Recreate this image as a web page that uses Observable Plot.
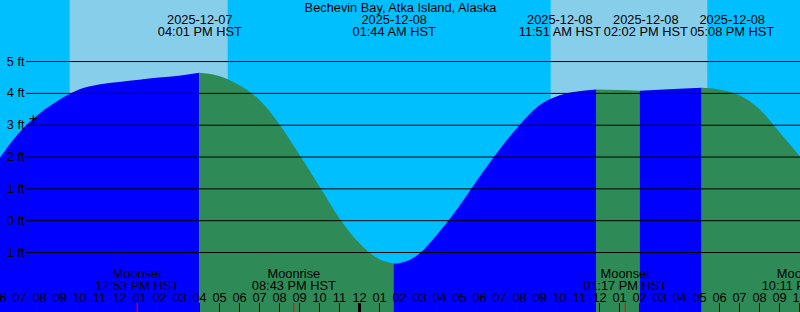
<!DOCTYPE html>
<html><head><meta charset="utf-8">
<script src="https://cdn.jsdelivr.net/npm/d3@7"></script>
<script src="https://cdn.jsdelivr.net/npm/@observablehq/plot@0.6"></script>
<style>html,body{margin:0;padding:0;background:#00BFFF;overflow:hidden}</style>
</head><body><div id="chart"></div>
<script>
const title = "Bechevin Bay, Atka Island, Alaska";
const timeZone = "HST";
const viewStart = "2025-12-07T06:03";
const viewEnd = "2025-12-08T22:03";
const feetDomain = [-2.884, 6.918];
const feetTicks = [-1, 0, 1, 2, 3, 4, 5];

// tide height readings (ft)
const readingTimes = [
  "2025-12-07T06:03","2025-12-07T07:00","2025-12-07T08:00","2025-12-07T09:00","2025-12-07T10:00",
  "2025-12-07T11:00","2025-12-07T12:00","2025-12-07T13:00","2025-12-07T14:00","2025-12-07T15:00",
  "2025-12-07T17:00","2025-12-07T18:00","2025-12-07T19:00","2025-12-07T20:00","2025-12-07T21:00",
  "2025-12-07T22:00","2025-12-07T23:00","2025-12-08T00:00","2025-12-08T01:00","2025-12-08T02:00",
  "2025-12-08T03:00","2025-12-08T04:00","2025-12-08T05:00","2025-12-08T06:00","2025-12-08T07:00",
  "2025-12-08T08:00","2025-12-08T09:00","2025-12-08T10:00","2025-12-08T11:00","2025-12-08T13:00",
  "2025-12-08T15:00","2025-12-08T16:00","2025-12-08T18:00","2025-12-08T19:00","2025-12-08T20:00",
  "2025-12-08T21:00","2025-12-08T22:03"
];
const readingFeet = [
  1.97, 2.75, 3.34, 3.78, 4.11,
  4.26, 4.34, 4.41, 4.48, 4.54,
  4.53, 4.25, 3.79, 3.03, 2.08,
  1.08, 0.08, -0.71, -1.22, -1.35,
  -1.06, -0.38, 0.43, 1.34, 2.20,
  2.97, 3.60, 3.92, 4.05, 4.09,
  4.10, 4.13, 4.11, 3.93, 3.50,
  2.79, 2.00
];

// tide events
const tideEventTimes = ["2025-12-07T16:01","2025-12-08T01:44","2025-12-08T11:51","2025-12-08T14:02","2025-12-08T17:08"];
const tideEventFeet = [4.63, -1.36, 4.11, 4.07, 4.16];

// sun
const sunriseTimes = ["2025-12-07T09:32","2025-12-08T09:35"];
const sunsetTimes = ["2025-12-07T17:26","2025-12-08T17:25"];

// moon
const moonTimes = ["2025-12-07T12:53","2025-12-07T20:43","2025-12-08T13:17","2025-12-08T22:11"];
const moonKinds = ["Moonset","Moonrise","Moonset","Moonrise"];

// current time marker
const nowTime = "2025-12-07T07:42";
const nowFeet = 3.2;

const W = 800, H = 312, FONT_PX = 12.8, FONT = "'Liberation Sans', Arial, sans-serif";
const parse = s => new Date(s + ":00Z");
const t0 = parse(viewStart), t1 = parse(viewEnd);
const fmtDate = d3.utcFormat("%Y-%m-%d");
const fmtTime = d => d3.utcFormat("%I:%M %p")(d) + " " + timeZone;
const fmtHour = d3.utcFormat("%I");

const readings = readingTimes.map((t, i) => ({t: parse(t), h: readingFeet[i]}))
  .concat(tideEventTimes.map((t, i) => ({t: parse(t), h: tideEventFeet[i]})))
  .sort((a, b) => a.t - b.t);
const bounds = [t0, ...tideEventTimes.map(parse), t1];
const segs = [];
for (let i = 0; i < bounds.length - 1; i++) {
  const pts = readings.filter(d => d.t >= bounds[i] && d.t <= bounds[i + 1]);
  const rising = pts[pts.length - 1].h > pts[0].h;
  pts.forEach(p => segs.push({...p, seg: i, fill: rising ? "#0000ff" : "#2e8b57"}));
}
const days = sunriseTimes.map((s, i) => ({a: parse(s), b: parse(sunsetTimes[i])}));
const moons = moonTimes.map((t, i) => ({t: parse(t), kind: moonKinds[i]}));
const hours = d3.utcHour.range(parse("2025-12-07T06:00"), new Date(+t1 + 1));
const midnights = hours.filter(d => d.getUTCHours() === 0);

// keep event labels from overlapping: spread clusters around their mean anchor
const xs = Plot.scale({x: {type: "utc", domain: [t0, t1], range: [0, W]}});
const ctx = document.createElement("canvas").getContext("2d");
ctx.font = `${FONT_PX}px ${FONT}`;
const events = tideEventTimes.map(parse).map(t => {
  const text = fmtDate(t) + "\n" + fmtTime(t);
  const w = Math.max(...text.split("\n").map(s => ctx.measureText(s).width));
  return {t, text, w, px: xs.apply(t)};
});
const GAP = 2.5;
let clusters = events.map(e => ({items: [e]}));
const layout = c => {
  const total = d3.sum(c.items, d => d.w) + GAP * (c.items.length - 1);
  const center = d3.mean(c.items, d => d.px);
  c.left = center - total / 2; c.right = center + total / 2;
};
clusters.forEach(layout);
let merged = true;
while (merged) {
  merged = false;
  for (let i = 0; i < clusters.length - 1; i++) {
    if (clusters[i].right + GAP > clusters[i + 1].left) {
      clusters[i] = {items: clusters[i].items.concat(clusters[i + 1].items)};
      clusters.splice(i + 1, 1);
      layout(clusters[i]);
      merged = true;
      break;
    }
  }
}
clusters.forEach(c => {
  let x = c.left;
  c.items.forEach(e => { e.lx = xs.invert(x + e.w / 2); x += e.w + GAP; });
});

const chart = Plot.plot({
  width: W, height: H, margin: 0,
  style: {fontFamily: FONT, fontSize: FONT_PX + "px", background: "#00BFFF", color: "black"},
  x: {type: "utc", domain: [t0, t1], axis: null},
  y: {domain: feetDomain, axis: null},
  color: {type: "identity"},
  marks: [
    Plot.rect(days, {x1: "a", x2: "b", fill: "#87CEEB"}),
    Plot.areaY(segs, {x: "t", y1: feetDomain[0], y2: "h", z: "seg", fill: "fill", curve: "monotone-x"}),
    Plot.ruleY(feetTicks, {stroke: "black", insetLeft: 26}),
    Plot.text(feetTicks, {frameAnchor: "left", y: d => d, dx: 24, textAnchor: "end", text: d => `${d} ft`, fill: "black"}),
    Plot.text([title], {frameAnchor: "top", dy: 7.5, lineAnchor: "middle", text: d => d, fill: "black"}),
    Plot.text(events, {x: "lx", frameAnchor: "top", dy: 25.6, lineAnchor: "middle", lineHeight: 0.96, text: "text", fill: "black"}),
    Plot.text(moons, {x: "t", frameAnchor: "bottom", dy: -32.4, lineAnchor: "middle", lineHeight: 0.92, text: d => d.kind + "\n" + fmtTime(d.t), fill: "black"}),
    Plot.text(hours, {x: d => d, frameAnchor: "bottom", dy: -15, lineAnchor: "middle", text: d => fmtHour(d), fill: "black"}),
    Plot.ruleX(hours, {x: d => d, stroke: "black", insetTop: 303}),
    Plot.ruleX(midnights, {x: d => d, stroke: "black", strokeWidth: 3, insetTop: 303}),
    Plot.ruleX(moons, {x: "t", stroke: "red", insetTop: 303}),
    Plot.text([nowFeet], {x: () => parse(nowTime), y: d => d, text: () => "+", fontSize: 16, fill: "black", lineAnchor: "middle"})
  ]
});
document.getElementById("chart").appendChild(chart);
</script>
</body></html>
